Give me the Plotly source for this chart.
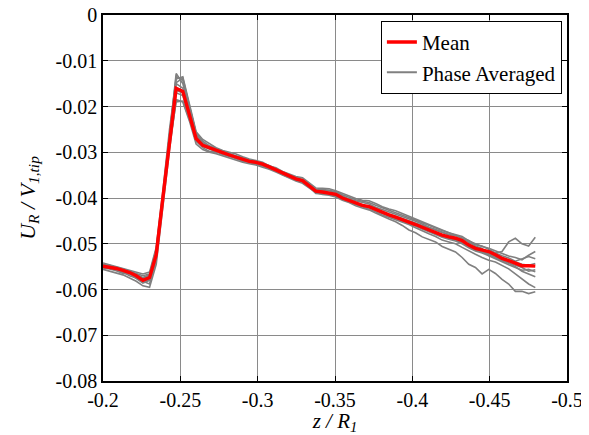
import plotly.graph_objects as go

# z / R1 sample positions
z = [-0.2000, -0.2043, -0.2086, -0.2129, -0.2172, -0.2215, -0.2258, -0.2301, -0.2344, -0.2387, -0.2430,
     -0.2473, -0.2516, -0.2559, -0.2602, -0.2645, -0.2688, -0.2731, -0.2774, -0.2817, -0.2860, -0.2903,
     -0.2946, -0.2989, -0.3032, -0.3075, -0.3118, -0.3161, -0.3204, -0.3247, -0.3290, -0.3333, -0.3376,
     -0.3419, -0.3462, -0.3505, -0.3548, -0.3591, -0.3634, -0.3677, -0.3720, -0.3763, -0.3806, -0.3849,
     -0.3892, -0.3935, -0.3978, -0.4021, -0.4064, -0.4107, -0.4150, -0.4193, -0.4236, -0.4279, -0.4322,
     -0.4365, -0.4408, -0.4451, -0.4494, -0.4537, -0.4580, -0.4623, -0.4666, -0.4709, -0.4752, -0.4795]

mean = [-0.0549, -0.0551, -0.0554, -0.0558, -0.0563, -0.0570, -0.0580, -0.0574, -0.0524, -0.0400, -0.0275,
        -0.0160, -0.0167, -0.0216, -0.0270, -0.0285, -0.0291, -0.0295, -0.0301, -0.0306, -0.0311, -0.0316,
        -0.0320, -0.0322, -0.0326, -0.0332, -0.0338, -0.0345, -0.0352, -0.0358, -0.0362, -0.0374, -0.0385,
        -0.0387, -0.0389, -0.0392, -0.0400, -0.0406, -0.0412, -0.0416, -0.0419, -0.0425, -0.0432, -0.0437,
        -0.0442, -0.0447, -0.0452, -0.0458, -0.0464, -0.0470, -0.0475, -0.0481, -0.0485, -0.0488, -0.0493,
        -0.0503, -0.0510, -0.0514, -0.0517, -0.0524, -0.0532, -0.0537, -0.0542, -0.0548, -0.0548, -0.0549]

phase1 = [-0.0542, -0.0546, -0.0550, -0.0553, -0.0557, -0.0562, -0.0566, -0.0562, -0.0508, -0.0385, -0.0250,
          -0.0140, -0.0135, -0.0195, -0.0255, -0.0272, -0.0282, -0.0290, -0.0296, -0.0300, -0.0304, -0.0310,
          -0.0315, -0.0318, -0.0322, -0.0330, -0.0334, -0.0342, -0.0347, -0.0353, -0.0356, -0.0366, -0.0378,
          -0.0379, -0.0380, -0.0384, -0.0390, -0.0395, -0.0401, -0.0405, -0.0406, -0.0412, -0.0419, -0.0424,
          -0.0428, -0.0434, -0.0440, -0.0446, -0.0452, -0.0458, -0.0464, -0.0470, -0.0476, -0.0481, -0.0488,
          -0.0497, -0.0505, -0.0510, -0.0526, -0.0520, -0.0517, -0.0496, -0.0488, -0.0500, -0.0505, -0.0486]

phase2 = [-0.0556, -0.0560, -0.0563, -0.0568, -0.0575, -0.0582, -0.0592, -0.0595, -0.0545, -0.0420, -0.0295,
          -0.0185, -0.0190, -0.0232, -0.0282, -0.0294, -0.0300, -0.0303, -0.0308, -0.0312, -0.0318, -0.0322,
          -0.0325, -0.0328, -0.0333, -0.0337, -0.0343, -0.0350, -0.0357, -0.0363, -0.0368, -0.0378, -0.0388,
          -0.0392, -0.0394, -0.0398, -0.0405, -0.0410, -0.0417, -0.0422, -0.0426, -0.0433, -0.0440, -0.0446,
          -0.0452, -0.0460, -0.0470, -0.0476, -0.0485, -0.0490, -0.0496, -0.0506, -0.0512, -0.0518, -0.0530,
          -0.0545, -0.0552, -0.0566, -0.0556, -0.0565, -0.0578, -0.0588, -0.0604, -0.0604, -0.0609, -0.0605]

phase3 = [-0.0553, -0.0555, -0.0559, -0.0565, -0.0566, -0.0576, -0.0586, -0.0580, -0.0530, -0.0405, -0.0280,
          -0.0170, -0.0176, -0.0225, -0.0276, -0.0290, -0.0298, -0.0299, -0.0305, -0.0309, -0.0312, -0.0320,
          -0.0322, -0.0326, -0.0330, -0.0336, -0.0340, -0.0349, -0.0355, -0.0360, -0.0366, -0.0376, -0.0390,
          -0.0391, -0.0391, -0.0396, -0.0402, -0.0409, -0.0415, -0.0419, -0.0424, -0.0430, -0.0437, -0.0442,
          -0.0448, -0.0453, -0.0458, -0.0465, -0.0472, -0.0478, -0.0484, -0.0492, -0.0496, -0.0500, -0.0508,
          -0.0516, -0.0523, -0.0530, -0.0536, -0.0540, -0.0548, -0.0555, -0.0566, -0.0578, -0.0588, -0.0596]

phase4 = [-0.0546, -0.0547, -0.0552, -0.0555, -0.0560, -0.0566, -0.0574, -0.0568, -0.0515, -0.0390, -0.0262,
          -0.0150, -0.0160, -0.0205, -0.0262, -0.0280, -0.0288, -0.0292, -0.0298, -0.0302, -0.0309, -0.0314,
          -0.0318, -0.0320, -0.0324, -0.0329, -0.0336, -0.0343, -0.0349, -0.0355, -0.0360, -0.0370, -0.0381,
          -0.0381, -0.0383, -0.0386, -0.0393, -0.0399, -0.0404, -0.0407, -0.0410, -0.0416, -0.0422, -0.0427,
          -0.0432, -0.0437, -0.0442, -0.0448, -0.0454, -0.0460, -0.0465, -0.0471, -0.0476, -0.0480, -0.0484,
          -0.0494, -0.0500, -0.0506, -0.0510, -0.0516, -0.0522, -0.0527, -0.0530, -0.0535, -0.0525, -0.0517]

phase5 = [-0.0551, -0.0554, -0.0556, -0.0561, -0.0565, -0.0572, -0.0583, -0.0578, -0.0528, -0.0398, -0.0270,
          -0.0128, -0.0150, -0.0210, -0.0266, -0.0283, -0.0293, -0.0297, -0.0303, -0.0305, -0.0313, -0.0318,
          -0.0320, -0.0324, -0.0328, -0.0333, -0.0339, -0.0346, -0.0351, -0.0357, -0.0364, -0.0373, -0.0383,
          -0.0386, -0.0390, -0.0393, -0.0400, -0.0404, -0.0411, -0.0418, -0.0417, -0.0423, -0.0431, -0.0435,
          -0.0440, -0.0445, -0.0450, -0.0455, -0.0461, -0.0466, -0.0471, -0.0476, -0.0480, -0.0482, -0.0488,
          -0.0493, -0.0502, -0.0505, -0.0512, -0.0520, -0.0526, -0.0531, -0.0538, -0.0533, -0.0528, -0.0533]

phase6 = [-0.0545, -0.0549, -0.0551, -0.0556, -0.0560, -0.0566, -0.0570, -0.0566, -0.0512, -0.0392, -0.0266,
          -0.0135, -0.0142, -0.0200, -0.0258, -0.0276, -0.0286, -0.0292, -0.0297, -0.0304, -0.0308, -0.0312,
          -0.0318, -0.0321, -0.0327, -0.0331, -0.0337, -0.0344, -0.0353, -0.0359, -0.0361, -0.0372, -0.0386,
          -0.0385, -0.0388, -0.0391, -0.0398, -0.0405, -0.0411, -0.0415, -0.0420, -0.0424, -0.0433, -0.0438,
          -0.0444, -0.0449, -0.0454, -0.0459, -0.0465, -0.0472, -0.0477, -0.0483, -0.0488, -0.0492, -0.0498,
          -0.0505, -0.0512, -0.0518, -0.0523, -0.0530, -0.0537, -0.0542, -0.0548, -0.0552, -0.0560, -0.0557]

phase7 = [-0.0550, -0.0553, -0.0558, -0.0562, -0.0570, -0.0575, -0.0582, -0.0588, -0.0535, -0.0410, -0.0285,
          -0.0190, -0.0188, -0.0228, -0.0274, -0.0287, -0.0292, -0.0298, -0.0302, -0.0308, -0.0314, -0.0318,
          -0.0321, -0.0325, -0.0328, -0.0334, -0.0341, -0.0346, -0.0354, -0.0360, -0.0363, -0.0375, -0.0387,
          -0.0389, -0.0390, -0.0394, -0.0401, -0.0408, -0.0413, -0.0417, -0.0421, -0.0427, -0.0434, -0.0439,
          -0.0445, -0.0450, -0.0455, -0.0462, -0.0468, -0.0474, -0.0480, -0.0486, -0.0490, -0.0494, -0.0500,
          -0.0509, -0.0516, -0.0520, -0.0526, -0.0533, -0.0540, -0.0546, -0.0552, -0.0558, -0.0556, -0.0561]

phase8 = [-0.0548, -0.0550, -0.0553, -0.0557, -0.0561, -0.0569, -0.0576, -0.0571, -0.0520, -0.0396, -0.0272,
          -0.0148, -0.0138, -0.0198, -0.0260, -0.0279, -0.0290, -0.0296, -0.0300, -0.0306, -0.0310, -0.0317,
          -0.0319, -0.0323, -0.0325, -0.0333, -0.0337, -0.0345, -0.0351, -0.0357, -0.0363, -0.0369, -0.0384,
          -0.0384, -0.0384, -0.0388, -0.0395, -0.0402, -0.0406, -0.0410, -0.0413, -0.0420, -0.0425, -0.0431,
          -0.0436, -0.0441, -0.0446, -0.0451, -0.0457, -0.0464, -0.0469, -0.0475, -0.0480, -0.0486, -0.0492,
          -0.0506, -0.0514, -0.0518, -0.0521, -0.0528, -0.0535, -0.0543, -0.0550, -0.0560, -0.0566, -0.0572]

phase9 = [-0.0547, -0.0552, -0.0555, -0.0559, -0.0564, -0.0568, -0.0578, -0.0575, -0.0522, -0.0402, -0.0278,
          -0.0165, -0.0170, -0.0220, -0.0272, -0.0286, -0.0292, -0.0294, -0.0302, -0.0307, -0.0311, -0.0315,
          -0.0321, -0.0321, -0.0327, -0.0332, -0.0338, -0.0347, -0.0352, -0.0358, -0.0362, -0.0374, -0.0384,
          -0.0386, -0.0389, -0.0392, -0.0400, -0.0406, -0.0412, -0.0416, -0.0419, -0.0425, -0.0432, -0.0437,
          -0.0442, -0.0447, -0.0452, -0.0459, -0.0464, -0.0470, -0.0476, -0.0482, -0.0485, -0.0489, -0.0493,
          -0.0502, -0.0508, -0.0513, -0.0518, -0.0522, -0.0530, -0.0536, -0.0540, -0.0545, -0.0547, -0.0543]

phase_series = [phase1, phase2, phase3, phase4, phase5, phase6, phase7, phase8, phase9]

x_tickvals = [-0.2, -0.25, -0.3, -0.35, -0.4, -0.45, -0.5]
x_ticktext = ["-0.2", "-0.25", "-0.3", "-0.35", "-0.4", "-0.45", "-0.5"]
y_tickvals = [0, -0.01, -0.02, -0.03, -0.04, -0.05, -0.06, -0.07, -0.08]
y_ticktext = ["0", "-0.01", "-0.02", "-0.03", "-0.04", "-0.05", "-0.06", "-0.07", "-0.08"]

FONT = "Times New Roman, Liberation Serif, serif"
GRAY = "#808080"

fig = go.Figure()
for s in phase_series:
    fig.add_trace(go.Scatter(
        x=z, y=s, mode="lines", name="Phase Averaged",
        line=dict(color=GRAY, width=1.6), showlegend=False,
    ))
fig.add_trace(go.Scatter(
    x=z, y=mean, mode="lines", name="Mean",
    line=dict(color="#ff0000", width=3.4),
))
# legend entry for phase averaged
fig.add_trace(go.Scatter(
    x=[None], y=[None], mode="lines", name="Phase Averaged",
    line=dict(color=GRAY, width=2),
))

axis_common = dict(
    showline=True, linecolor="black", linewidth=1.6, mirror="ticks",
    ticks="inside", ticklen=5, tickcolor="black", tickwidth=1,
    showgrid=True, gridcolor="#8a8a8a", gridwidth=1, griddash="solid",
    zeroline=False, automargin=False, ticklabeloverflow="allow",
    tickfont=dict(family=FONT, size=20, color="black"),
)

# page body adds an 8px offset; the figure is sized to fill the rest of the window
fig.update_layout(
    width=581, height=427,
    margin=dict(l=95, r=22, t=7, b=54),
    paper_bgcolor="white", plot_bgcolor="white",
    font=dict(family=FONT, size=20, color="black"),
    showlegend=True,
    legend=dict(
        x=0.989, y=0.984, xanchor="right", yanchor="top",
        bgcolor="white", bordercolor="black", borderwidth=1,
        font=dict(family=FONT, size=21, color="black"),
        tracegroupgap=0, itemwidth=30, traceorder="normal",
    ),
    xaxis=dict(
        range=[-0.2, -0.5], tickmode="array",
        tickvals=x_tickvals, ticktext=x_ticktext,
        title=dict(text="<i>z / R<sub>1</sub></i>", standoff=4,
                   font=dict(family=FONT, size=21)),
        **axis_common,
    ),
    yaxis=dict(
        range=[-0.08, 0], tickmode="array",
        tickvals=y_tickvals, ticktext=y_ticktext,
        title=dict(text="<i>U<sub>R</sub> / V<sub>1,tip</sub></i>", standoff=14,
                   font=dict(family=FONT, size=22)),
        **axis_common,
    ),
)

fig.write_html("out.html")
